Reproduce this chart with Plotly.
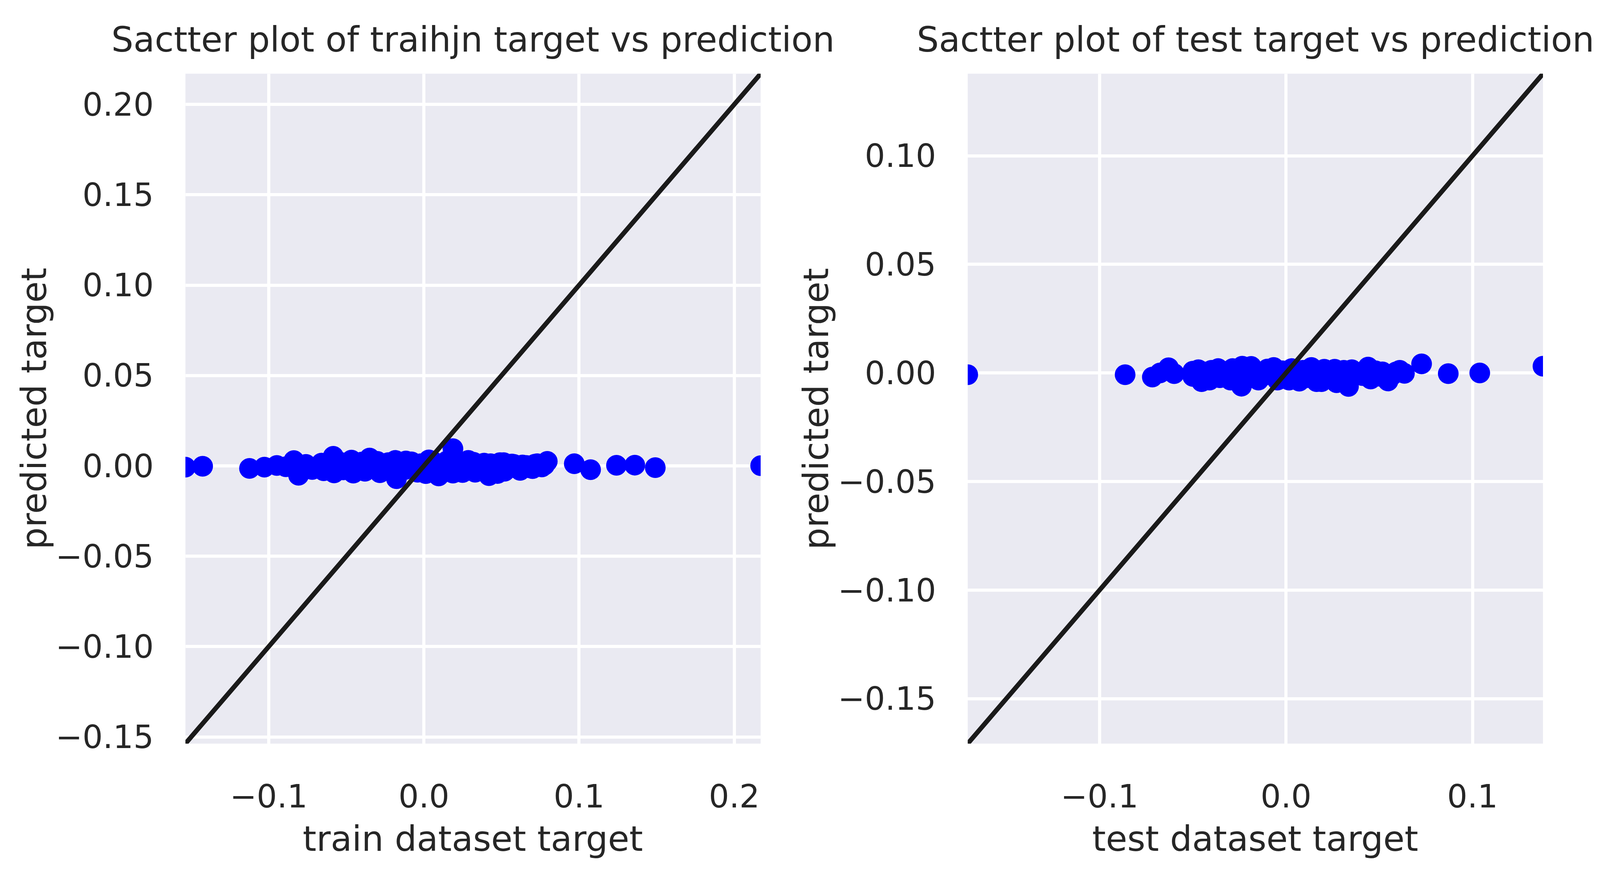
import plotly.graph_objects as go

# valeurs (cible réelle, prédiction)
train_target = [
    -0.1537, -0.1426, -0.1124, -0.1028, -0.0948, -0.0890, -0.0838, -0.0808,
    -0.0720, -0.0646, -0.0584, -0.0579, -0.0467, -0.0455, -0.0350, -0.0284,
    -0.0177, -0.0184, -0.0116, -0.0041, 0.0012, 0.0032, 0.0095, 0.0187,
    0.0187, 0.0249, 0.0286, 0.0330, 0.0388, 0.0419, 0.0474, 0.0514,
    0.0567, 0.0608, 0.0635, 0.0669, 0.0715, 0.0777, 0.0795, 0.0969,
    0.1074, 0.1241, 0.1359, 0.1491, 0.2170,
    -0.076, -0.068, -0.066, -0.062, -0.054, -0.052, -0.050, -0.042,
    -0.040, -0.038, -0.033, -0.030, -0.026, -0.023, -0.020, -0.015,
    -0.012, -0.008, -0.006, -0.002, 0.001, 0.004, 0.006, 0.008,
    0.011, 0.013, 0.015, 0.017, 0.021, 0.023, 0.026, 0.030,
    0.032, 0.035, 0.037, 0.040, 0.043, 0.046, 0.049, 0.052,
    0.055, 0.058, 0.062, 0.066, 0.070, 0.073, 0.076,
]
train_pred = [
    -0.0007, -0.0002, -0.0014, -0.0007, 0.0002, -0.0005, 0.0029, -0.0052,
    -0.0020, -0.0027, 0.0053, -0.0039, 0.0032, -0.0040, 0.0043, -0.0038,
    -0.0071, 0.0030, 0.0027, -0.0035, -0.0043, 0.0033, -0.0056, 0.0095,
    -0.0040, -0.0037, 0.0030, -0.0035, 0.0015, -0.0054, -0.0042, 0.0018,
    0.0010, -0.0017, 0.0005, -0.0010, 0.0009, 0.0004, 0.0025, 0.0012,
    -0.0021, 0.0003, 0.0004, -0.0010, 0.0001,
    0.0008, -0.0012, 0.0015, -0.0005, 0.0020, -0.0022, 0.0004, -0.0015,
    0.0021, -0.0030, 0.0006, 0.0025, -0.0012, 0.0018, -0.0030, 0.0008,
    -0.0020, 0.0022, -0.0006, 0.0012, -0.0025, 0.0005, 0.0024, -0.0015,
    0.0010, -0.0032, 0.0028, -0.0008, 0.0015, -0.0024, 0.0004, -0.0012,
    0.0020, -0.0028, 0.0006, -0.0018, 0.0012, -0.0008, 0.0018, -0.0030,
    -0.0005, 0.0008, -0.0025, 0.0002, -0.0015, 0.0012, -0.0006,
]

test_target = [
    -0.1707, -0.0863, -0.0717, -0.0676, -0.0630, -0.0600, -0.0500, -0.0500,
    -0.0470, -0.0453, -0.0410, -0.0364, -0.0355, -0.0298, -0.0287, -0.0239,
    -0.0235, -0.0187, -0.0148, -0.0066, -0.0046, 0.0016, 0.0071, 0.0136,
    0.0164, 0.0190, 0.0205, 0.0261, 0.0271, 0.0335, 0.0353, 0.0440,
    0.0454, 0.0517, 0.0547, 0.0610, 0.0635, 0.0727, 0.0870, 0.1039,
    0.1378,
    -0.044, -0.040, -0.033, -0.031, -0.027, -0.021, -0.019, -0.016,
    -0.012, -0.010, -0.007, -0.002, 0.000, 0.003, 0.005, 0.009,
    0.011, 0.015, 0.018, 0.022, 0.024, 0.029, 0.031, 0.034,
    0.038, 0.041, 0.048, 0.050, 0.057, 0.059,
]
test_pred = [
    -0.0008, -0.0008, -0.0019, 0.0000, 0.0024, -0.0003, 0.0008, -0.0016,
    0.0015, -0.0040, -0.0033, 0.0020, -0.0022, -0.0033, 0.0020, -0.0061,
    0.0031, 0.0030, -0.0033, 0.0025, -0.0033, -0.0033, -0.0038, 0.0025,
    -0.0040, -0.0040, 0.0017, 0.0017, -0.0045, -0.0062, 0.0015, 0.0027,
    -0.0028, 0.0005, -0.0037, 0.0012, -0.0002, 0.0042, -0.0003, 0.0000,
    0.0031,
    0.0005, 0.0012, -0.0010, 0.0008, -0.0015, 0.0010, -0.0020, 0.0005,
    -0.0012, 0.0018, -0.0005, 0.0010, -0.0018, 0.0020, -0.0008, 0.0012,
    -0.0022, 0.0000, 0.0010, -0.0015, 0.0005, -0.0010, 0.0012, -0.0025,
    0.0000, -0.0012, 0.0010, -0.0015, -0.0010, 0.0005,
]

titles = ["Sactter plot of traihjn target vs prediction",
          "Sactter plot of test target vs prediction"]
x_labels = ["train dataset target", "test dataset target"]
y_label = "predicted target"

TXT = "#262626"
FONT = "DejaVu Sans"

# la fenêtre fait 4096 px de large : on ramène les positions de l'image (4798 px)
REF_W, VIEW_W = 4798, 4096
FIG_W, FIG_H, OFF = 4080, 2274, 8


def px_x(p):
    return (p * VIEW_W / REF_W - OFF) / FIG_W


def px_y(p):
    return 1 - (p - OFF) / FIG_H


# position des deux axes en pixels (gauche, droite), haut/bas communs
boxes = [(556, 2281), (2902, 4627)]
top, bottom = 191, 1928

fig = go.Figure()

for i, (tx, pr) in enumerate([(train_target, train_pred), (test_target, test_pred)]):
    xa = "x" if i == 0 else "x2"
    ya = "y" if i == 0 else "y2"
    lo, hi = min(tx), max(tx)
    fig.add_trace(go.Scatter(
        x=tx, y=pr, mode="markers", xaxis=xa, yaxis=ya,
        marker=dict(color="#0000FF", size=53, line=dict(width=0)),
        showlegend=False,
    ))
    fig.add_trace(go.Scatter(
        x=[lo, hi], y=[lo, hi], mode="lines", xaxis=xa, yaxis=ya,
        line=dict(color="#1A1A1A", width=12),
        showlegend=False,
    ))

    axis_common = dict(
        showgrid=True, gridcolor="white", gridwidth=7.5,
        zeroline=False, showline=False, ticks="",
        tickfont=dict(family=FONT, size=82, color=TXT),
        range=[lo, hi],
    )
    l, r = boxes[i]
    sfx = "" if i == 0 else "2"
    fig.update_layout(**{
        "xaxis" + sfx: dict(axis_common, domain=[px_x(l), px_x(r)],
                            anchor="y" + sfx, dtick=0.1, tick0=0,
                            tickformat=".1f", ticklabelstandoff=80),
        "yaxis" + sfx: dict(axis_common, domain=[px_y(bottom), px_y(top)],
                            anchor="x" + sfx, dtick=0.05, tick0=0,
                            tickformat=".2f", ticklabelstandoff=80),
    })

    cx = (l + r) / 2
    fig.add_annotation(text=titles[i], xref="paper", yref="paper",
                       x=px_x(cx), y=px_y(102), xanchor="center", yanchor="middle",
                       showarrow=False, font=dict(family=FONT, size=89, color=TXT))
    fig.add_annotation(text=x_labels[i], xref="paper", yref="paper",
                       x=px_x(cx), y=px_y(2175), xanchor="center", yanchor="middle",
                       showarrow=False, font=dict(family=FONT, size=89, color=TXT))
    fig.add_annotation(text=y_label, xref="paper", yref="paper", textangle=-90,
                       x=px_x(l - 455), y=px_y((top + bottom) / 2),
                       xanchor="center", yanchor="middle",
                       showarrow=False, font=dict(family=FONT, size=89, color=TXT))

fig.update_layout(
    autosize=True,
    margin=dict(l=0, r=0, t=0, b=0),
    plot_bgcolor="#EAEAF2", paper_bgcolor="white",
    font=dict(family=FONT, color=TXT),
)

fig.write_html("out.html")
